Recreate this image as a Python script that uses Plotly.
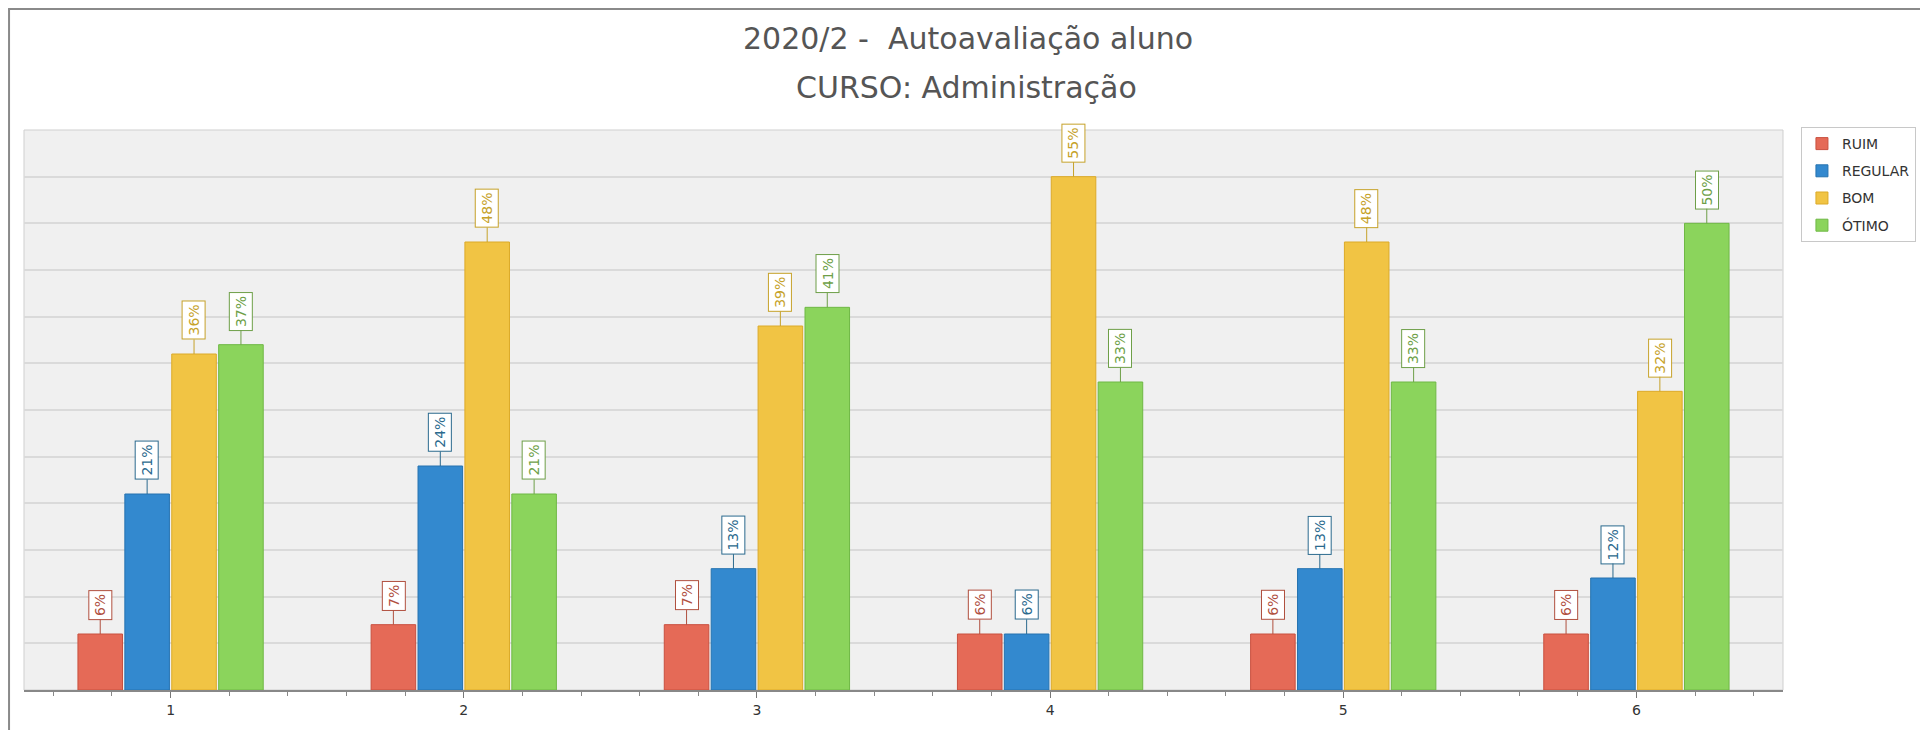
import plotly.graph_objects as go

# dados
categorias = [1, 2, 3, 4, 5, 6]
ruim = [6, 7, 7, 6, 6, 6]
regular = [21, 24, 13, 6, 13, 12]
bom = [36, 48, 39, 55, 48, 32]
otimo = [37, 21, 41, 33, 33, 50]

series = [
    ("RUIM", ruim, "#e56a57", "#c9503f", "#b0503f"),
    ("REGULAR", regular, "#3389cf", "#2673b0", "#2b6a8e"),
    ("BOM", bom, "#f1c444", "#dcaa28", "#c6a22a"),
    ("ÓTIMO", otimo, "#8bd45c", "#6fb845", "#6e9f48"),
]

# the page body has an 8px margin, so the figure is drawn 8px in from the corner
OFF = 8
W, H = 1928 - OFF, 730 - OFF
L, R, T, B = 24 - OFF, 140, 130 - OFF, 40
bargap = 0.36
font = "DejaVu Sans"
lbl_size = 14

fig = go.Figure()
for i, (nome, vals, cor, borda, cor_rot) in enumerate(series):
    fig.add_trace(go.Bar(
        x=categorias, y=vals, name=nome, legendgroup=nome,
        marker=dict(color=cor, line=dict(color=borda, width=1)),
        hoverinfo="y",
    ))

# largura aproximada do texto (DejaVu Sans), para afastar a caixa da barra
def text_w(s, size):
    w = {"%": 0.95}
    return sum(w.get(ch, 0.636) for ch in s) * size

# rótulos em caixa, girados, ligados à barra por uma linha
slot = (1 - bargap) / len(series)
annots = []
for i, (nome, vals, cor, borda, cor_rot) in enumerate(series):
    off = (i - (len(series) - 1) / 2) * slot
    for c, v in zip(categorias, vals):
        txt = f"{v}%"
        box_h = text_w(txt, lbl_size) + 2 * 3 + 2
        annots.append(dict(
            x=c + off, y=v, xref="x", yref="y",
            text=txt, textangle=-90,
            font=dict(family=font, size=lbl_size, color=cor_rot),
            bgcolor="white", bordercolor=cor_rot, borderwidth=1, borderpad=3,
            showarrow=True, arrowhead=0, arrowwidth=1, arrowcolor=cor_rot,
            ax=0, ay=-(14 + box_h / 2),
        ))

pw = W - L - R
ph = H - T - B
def px_x(p):
    return (p - OFF - L) / pw
def px_y(p):
    return (H - B - (p - OFF)) / ph

annots.append(dict(text="2020/2 -  Autoavaliação aluno", xref="paper", yref="paper",
                   x=px_x(971), y=px_y(39), xanchor="center", yanchor="middle",
                   showarrow=False, font=dict(family=font, size=30, color="#555")))
annots.append(dict(text="CURSO: Administração", xref="paper", yref="paper",
                   x=px_x(969), y=px_y(87), xanchor="center", yanchor="middle",
                   showarrow=False, font=dict(family=font, size=30, color="#555")))

fig.update_layout(
    width=W, height=H,
    margin=dict(l=L, r=R, t=T, b=B),
    paper_bgcolor="white", plot_bgcolor="#f0f0f0",
    barmode="group", bargap=bargap, bargroupgap=0.05,
    font=dict(family=font, size=13, color="#333"),
    annotations=annots,
    showlegend=True,
    legend=dict(x=px_x(1806), y=px_y(127), xanchor="left", yanchor="top",
                bgcolor="white", bordercolor="#c8c8c8", borderwidth=1,
                font=dict(family=font, size=14, color="#333"),
                tracegroupgap=6, traceorder="grouped"),
    shapes=[
        dict(type="line", xref="paper", yref="paper", x0=px_x(8), x1=px_x(1928),
             y0=px_y(9), y1=px_y(9), line=dict(color="#8a8a8a", width=2)),
        dict(type="line", xref="paper", yref="paper", x0=px_x(9), x1=px_x(9),
             y0=px_y(9), y1=px_y(730), line=dict(color="#8a8a8a", width=2)),
        dict(type="rect", xref="paper", yref="paper", x0=0, x1=1, y0=0, y1=1,
             line=dict(color="#cfcfcf", width=1), layer="below"),
    ],
)
fig.update_xaxes(
    range=[0.5, 6.5], tickmode="linear", tick0=1, dtick=1,
    ticks="outside", ticklen=6, tickcolor="#777", showgrid=False,
    showline=True, linecolor="#888", linewidth=1.5,
    minor=dict(dtick=0.2, tick0=1, ticks="outside", ticklen=4, tickcolor="#888", showgrid=False),
    tickfont=dict(family=font, size=14, color="#333"), zeroline=False,
)
fig.update_yaxes(
    range=[0, 60], dtick=5, showticklabels=False, showgrid=True,
    gridcolor="#dadada", gridwidth=2, zeroline=False, showline=False,
)

fig.write_html("out.html")
